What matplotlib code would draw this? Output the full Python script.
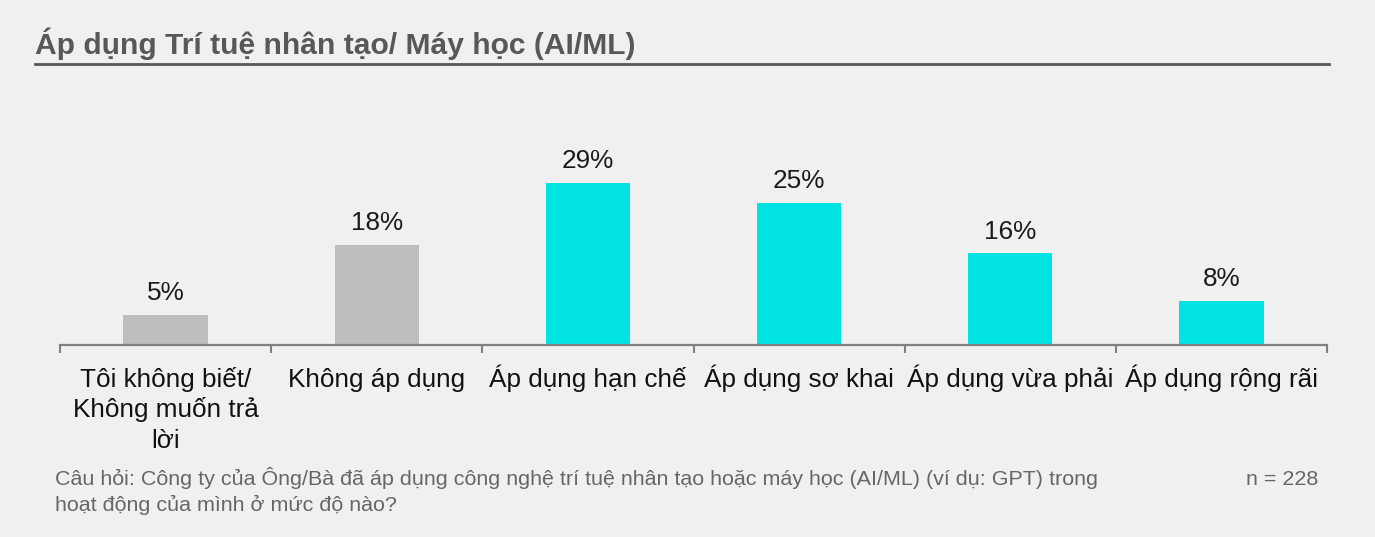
import matplotlib
matplotlib.use("Agg")
import matplotlib.pyplot as plt

categories = ["Tôi không biết/\nKhông muốn trả\nlời", "Không áp dụng", "Áp dụng hạn chế",
              "Áp dụng sơ khai", "Áp dụng vừa phải", "Áp dụng rộng rãi"]
values = [5.4, 17.9, 29.0, 25.4, 16.4, 7.9]
labels = ["5%", "18%", "29%", "25%", "16%", "8%"]
colors = ["#bdbec0", "#bdbec0", "#00e3e3", "#00e3e3", "#00e3e3", "#00e3e3"]

title = "Áp dụng Trí tuệ nhân tạo/ Máy học (AI/ML)"
note_lines = ["Câu hỏi: Công ty của Ông/Bà đã áp dụng công nghệ trí tuệ nhân tạo hoặc máy học (AI/ML) (ví dụ: GPT) trong",
              "hoạt động của mình ở mức độ nào?"]
n_text = "n = 228"

plt.rcParams['font.family'] = ['Liberation Sans', 'DejaVu Sans']
W, H = 1375, 537
fig = plt.figure(figsize=(W/100, H/100), dpi=100, facecolor="#f0f0f0")

def fx(px): return px / W
def fy(py): return 1 - py / H

ax = fig.add_axes([fx(60), fy(345), fx(1327) - fx(60), fy(100) - fy(345)])
ax.set_facecolor("none")
x = list(range(len(categories)))
ax.bar(x, values, width=0.4, color=colors)
ax.set_xlim(-0.5, len(categories) - 0.5)
ax.set_ylim(0, 245 / 5.597)
for xi, v, l in zip(x, values, labels):
    ax.annotate(l, (xi, v), xytext=(0, 10.5), textcoords="offset points",
                ha="center", va="baseline", fontsize=18.8, color="#1a1a1a")
for s in ["top", "right", "left"]:
    ax.spines[s].set_visible(False)
ax.spines["bottom"].set_color("#808080")
ax.spines["bottom"].set_linewidth(1.6)
ax.set_yticks([])
ax.set_xticks([i - 0.5 for i in range(len(categories) + 1)])
ax.set_xticklabels([])
ax.tick_params(axis="x", length=5.8, width=1.5, color="#808080")

# category labels: each line placed on its own baseline below the axis
line_step_pt = 30.7 * 72 / 100
for xi, cat in zip(x, categories):
    for i, line in enumerate(cat.split("\n")):
        ax.annotate(line, (xi, 0), xytext=(0, -30 - i * line_step_pt), textcoords="offset points",
                    xycoords=("data", "axes fraction"),
                    ha="center", va="baseline", fontsize=18.8, color="#111111", annotation_clip=False)

fig.text(fx(35), fy(54), title, fontsize=21.6, fontweight="bold", color="#58585a", va="baseline")
fig.add_artist(plt.Line2D([fx(35), fx(1329)], [fy(64), fy(64)], color="#58585a", lw=2.0))
fig.text(fx(55), fy(485), note_lines[0], fontsize=15.45, color="#666666", va="baseline")
fig.text(fx(55), fy(511), note_lines[1], fontsize=15.45, color="#666666", va="baseline")
fig.text(fx(1318), fy(485), n_text, fontsize=15.45, color="#666666", va="baseline", ha="right")

fig.savefig("out.png", dpi=100, facecolor=fig.get_facecolor())
